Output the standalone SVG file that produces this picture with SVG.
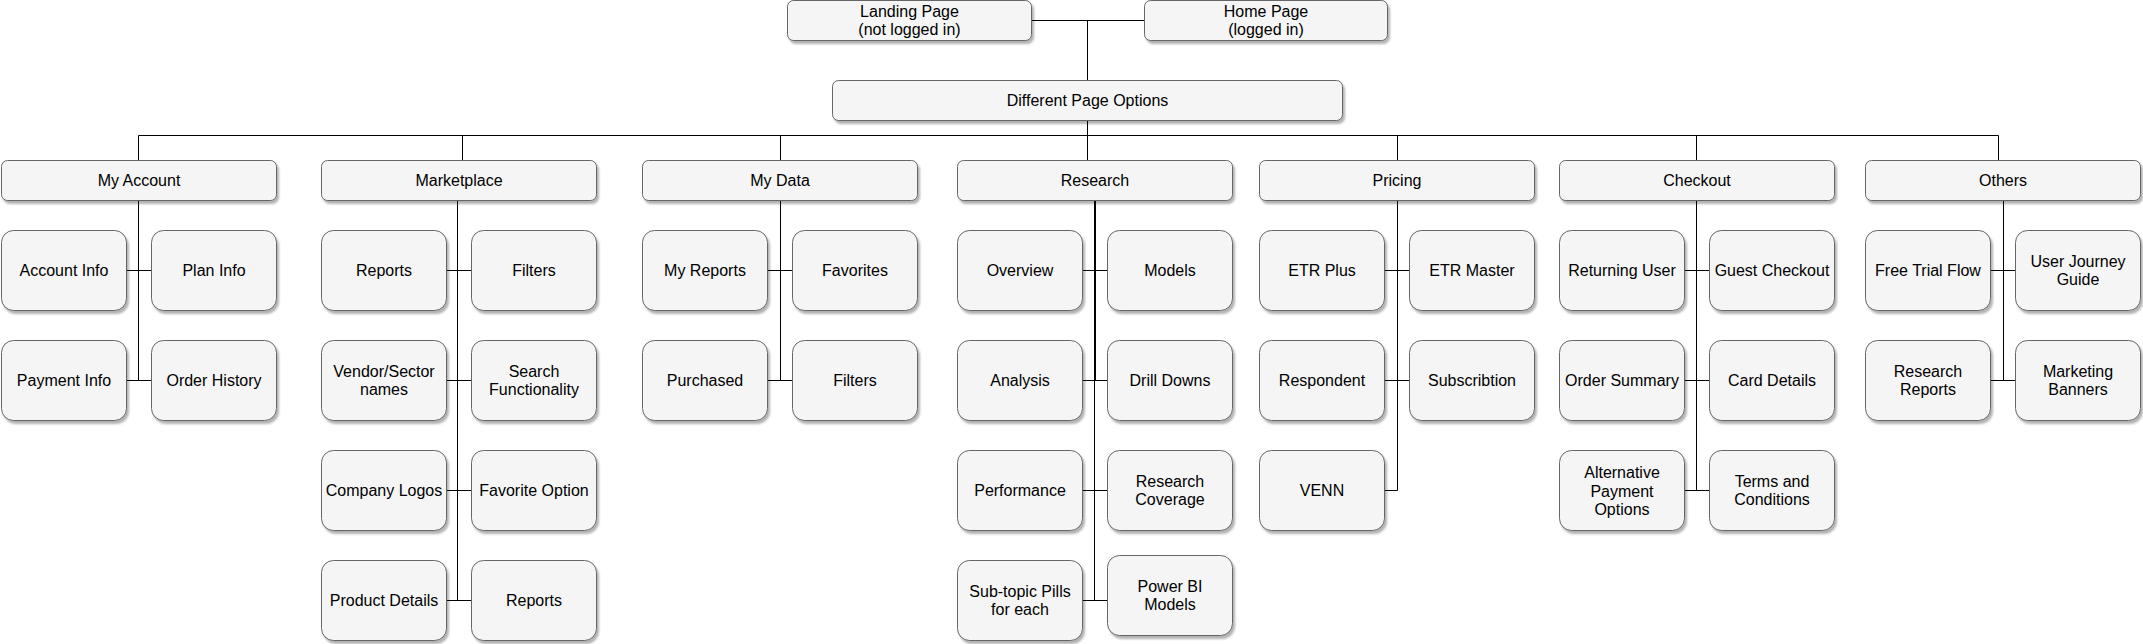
<svg xmlns="http://www.w3.org/2000/svg" width="2143" height="644" viewBox="0 0 2143 644">
<defs>
<filter id="sh" x="-10%" y="-10%" width="130%" height="140%">
<feDropShadow dx="2" dy="3" stdDeviation="1" flood-color="#000" flood-opacity="0.3"/>
</filter>
</defs>
<style>
.b{fill:#f5f5f5;stroke:#666666;stroke-width:1;filter:url(#sh)}
.t{font-family:"Liberation Sans",Arial,Helvetica,sans-serif;font-size:16px;fill:#000;text-anchor:middle}
.c{stroke:#000;stroke-width:1;fill:none}
</style>
<rect width="2143" height="644" fill="#ffffff"/>
<g id="connectors">
<path class="c" d="M1031.5 20.5H1144.5M1087.5 20.5V80.5M1087.5 120.5V135.5M138.5 135.5H1998.5"/>
<path class="c" d="M138.5 135.5V160.5M462.5 135.5V160.5M780.5 135.5V160.5M1087.5 135.5V160.5M1397.5 135.5V160.5M1696.5 135.5V160.5M1998.5 135.5V160.5"/>
<path class="c" d="M138.5 200.5V380.5M126.5 270.5H151.5M126.5 380.5H151.5"/>
<path class="c" d="M457.5 200.5V600.5M446.5 270.5H471.5M446.5 380.5H471.5M446.5 490.5H471.5M446.5 600.5H471.5"/>
<path class="c" d="M780.5 200.5V380.5M767.5 270.5H792.5M767.5 380.5H792.5"/>
<path class="c" d="M1094.5 200.5V600.5M1095.5 200.5V380.5M1082.5 270.5H1107.5M1082.5 380.5H1107.5M1082.5 490.5H1107.5M1082.5 600.5H1107.5"/>
<path class="c" d="M1397.5 200.5V490.5M1384.5 270.5H1409.5M1384.5 380.5H1409.5M1384.5 490.5H1397.5"/>
<path class="c" d="M1696.5 200.5V490.5M1684.5 270.5H1709.5M1684.5 380.5H1709.5M1684.5 490.5H1709.5"/>
<path class="c" d="M2003.5 200.5V380.5M1990.5 270.5H2015.5M1990.5 380.5H2015.5"/>
</g>
<g id="landing"><rect class="b" x="787.5" y="0.5" width="244" height="40" rx="6"/><text class="t" x="909.5" y="16.5">Landing Page</text><text class="t" x="909.5" y="35">(not logged in)</text></g>
<g id="home"><rect class="b" x="1144.5" y="0.5" width="243" height="40" rx="6"/><text class="t" x="1266" y="16.5">Home Page</text><text class="t" x="1266" y="35">(logged in)</text></g>
<g id="dpo"><rect class="b" x="832.5" y="80.5" width="510" height="40" rx="6"/><text class="t" x="1087.5" y="106">Different Page Options</text></g>
<g id="myaccount"><rect class="b" x="1.5" y="160.5" width="275" height="40" rx="6"/><text class="t" x="139" y="186">My Account</text></g>
<g id="marketplace"><rect class="b" x="321.5" y="160.5" width="275" height="40" rx="6"/><text class="t" x="459" y="186">Marketplace</text></g>
<g id="mydata"><rect class="b" x="642.5" y="160.5" width="275" height="40" rx="6"/><text class="t" x="780" y="186">My Data</text></g>
<g id="research"><rect class="b" x="957.5" y="160.5" width="275" height="40" rx="6"/><text class="t" x="1095" y="186">Research</text></g>
<g id="pricing"><rect class="b" x="1259.5" y="160.5" width="275" height="40" rx="6"/><text class="t" x="1397" y="186">Pricing</text></g>
<g id="checkout"><rect class="b" x="1559.5" y="160.5" width="275" height="40" rx="6"/><text class="t" x="1697" y="186">Checkout</text></g>
<g id="others"><rect class="b" x="1865.5" y="160.5" width="275" height="40" rx="6"/><text class="t" x="2003" y="186">Others</text></g>

<g id="account-info"><rect class="b" x="1.5" y="230.5" width="125" height="80" rx="12"/><text class="t" x="64" y="276">Account Info</text></g>
<g id="plan-info"><rect class="b" x="151.5" y="230.5" width="125" height="80" rx="12"/><text class="t" x="214" y="276">Plan Info</text></g>
<g id="payment-info"><rect class="b" x="1.5" y="340.5" width="125" height="80" rx="12"/><text class="t" x="64" y="386">Payment Info</text></g>
<g id="order-history"><rect class="b" x="151.5" y="340.5" width="125" height="80" rx="12"/><text class="t" x="214" y="386">Order History</text></g>

<g id="mp-reports"><rect class="b" x="321.5" y="230.5" width="125" height="80" rx="12"/><text class="t" x="384" y="276">Reports</text></g>
<g id="mp-filters"><rect class="b" x="471.5" y="230.5" width="125" height="80" rx="12"/><text class="t" x="534" y="276">Filters</text></g>
<g id="vendor"><rect class="b" x="321.5" y="340.5" width="125" height="80" rx="12"/><text class="t" x="384" y="376.5">Vendor/Sector</text><text class="t" x="384" y="395">names</text></g>
<g id="search"><rect class="b" x="471.5" y="340.5" width="125" height="80" rx="12"/><text class="t" x="534" y="376.5">Search</text><text class="t" x="534" y="395">Functionality</text></g>
<g id="logos"><rect class="b" x="321.5" y="450.5" width="125" height="80" rx="12"/><text class="t" x="384" y="496">Company Logos</text></g>
<g id="favorite"><rect class="b" x="471.5" y="450.5" width="125" height="80" rx="12"/><text class="t" x="534" y="496">Favorite Option</text></g>
<g id="product"><rect class="b" x="321.5" y="560.5" width="125" height="80" rx="12"/><text class="t" x="384" y="606">Product Details</text></g>
<g id="mp-reports2"><rect class="b" x="471.5" y="560.5" width="125" height="80" rx="12"/><text class="t" x="534" y="606">Reports</text></g>

<g id="my-reports"><rect class="b" x="642.5" y="230.5" width="125" height="80" rx="12"/><text class="t" x="705" y="276">My Reports</text></g>
<g id="favorites"><rect class="b" x="792.5" y="230.5" width="125" height="80" rx="12"/><text class="t" x="855" y="276">Favorites</text></g>
<g id="purchased"><rect class="b" x="642.5" y="340.5" width="125" height="80" rx="12"/><text class="t" x="705" y="386">Purchased</text></g>
<g id="md-filters"><rect class="b" x="792.5" y="340.5" width="125" height="80" rx="12"/><text class="t" x="855" y="386">Filters</text></g>

<g id="overview"><rect class="b" x="957.5" y="230.5" width="125" height="80" rx="12"/><text class="t" x="1020" y="276">Overview</text></g>
<g id="models"><rect class="b" x="1107.5" y="230.5" width="125" height="80" rx="12"/><text class="t" x="1170" y="276">Models</text></g>
<g id="analysis"><rect class="b" x="957.5" y="340.5" width="125" height="80" rx="12"/><text class="t" x="1020" y="386">Analysis</text></g>
<g id="drill"><rect class="b" x="1107.5" y="340.5" width="125" height="80" rx="12"/><text class="t" x="1170" y="386">Drill Downs</text></g>
<g id="performance"><rect class="b" x="957.5" y="450.5" width="125" height="80" rx="12"/><text class="t" x="1020" y="496">Performance</text></g>
<g id="coverage"><rect class="b" x="1107.5" y="450.5" width="125" height="80" rx="12"/><text class="t" x="1170" y="486.5">Research</text><text class="t" x="1170" y="505">Coverage</text></g>
<g id="subtopic"><rect class="b" x="957.5" y="560.5" width="125" height="80" rx="12"/><text class="t" x="1020" y="596.5">Sub-topic Pills</text><text class="t" x="1020" y="615">for each</text></g>
<g id="powerbi"><rect class="b" x="1107.5" y="555.5" width="125" height="80" rx="12"/><text class="t" x="1170" y="591.5">Power BI</text><text class="t" x="1170" y="610">Models</text></g>

<g id="etr-plus"><rect class="b" x="1259.5" y="230.5" width="125" height="80" rx="12"/><text class="t" x="1322" y="276">ETR Plus</text></g>
<g id="etr-master"><rect class="b" x="1409.5" y="230.5" width="125" height="80" rx="12"/><text class="t" x="1472" y="276">ETR Master</text></g>
<g id="respondent"><rect class="b" x="1259.5" y="340.5" width="125" height="80" rx="12"/><text class="t" x="1322" y="386">Respondent</text></g>
<g id="subscription"><rect class="b" x="1409.5" y="340.5" width="125" height="80" rx="12"/><text class="t" x="1472" y="386">Subscribtion</text></g>
<g id="venn"><rect class="b" x="1259.5" y="450.5" width="125" height="80" rx="12"/><text class="t" x="1322" y="496">VENN</text></g>

<g id="returning"><rect class="b" x="1559.5" y="230.5" width="125" height="80" rx="12"/><text class="t" x="1622" y="276">Returning User</text></g>
<g id="guest"><rect class="b" x="1709.5" y="230.5" width="125" height="80" rx="12"/><text class="t" x="1772" y="276">Guest Checkout</text></g>
<g id="order-summary"><rect class="b" x="1559.5" y="340.5" width="125" height="80" rx="12"/><text class="t" x="1622" y="386">Order Summary</text></g>
<g id="card"><rect class="b" x="1709.5" y="340.5" width="125" height="80" rx="12"/><text class="t" x="1772" y="386">Card Details</text></g>
<g id="alt-payment"><rect class="b" x="1559.5" y="450.5" width="125" height="80" rx="12"/><text class="t" x="1622" y="477.5">Alternative</text><text class="t" x="1622" y="496.5">Payment</text><text class="t" x="1622" y="515">Options</text></g>
<g id="terms"><rect class="b" x="1709.5" y="450.5" width="125" height="80" rx="12"/><text class="t" x="1772" y="486.5">Terms and</text><text class="t" x="1772" y="505">Conditions</text></g>

<g id="free-trial"><rect class="b" x="1865.5" y="230.5" width="125" height="80" rx="12"/><text class="t" x="1928" y="276">Free Trial Flow</text></g>
<g id="journey"><rect class="b" x="2015.5" y="230.5" width="125" height="80" rx="12"/><text class="t" x="2078" y="266.5">User Journey</text><text class="t" x="2078" y="285">Guide</text></g>
<g id="research-reports"><rect class="b" x="1865.5" y="340.5" width="125" height="80" rx="12"/><text class="t" x="1928" y="376.5">Research</text><text class="t" x="1928" y="395">Reports</text></g>
<g id="marketing"><rect class="b" x="2015.5" y="340.5" width="125" height="80" rx="12"/><text class="t" x="2078" y="376.5">Marketing</text><text class="t" x="2078" y="395">Banners</text></g>
</svg>
